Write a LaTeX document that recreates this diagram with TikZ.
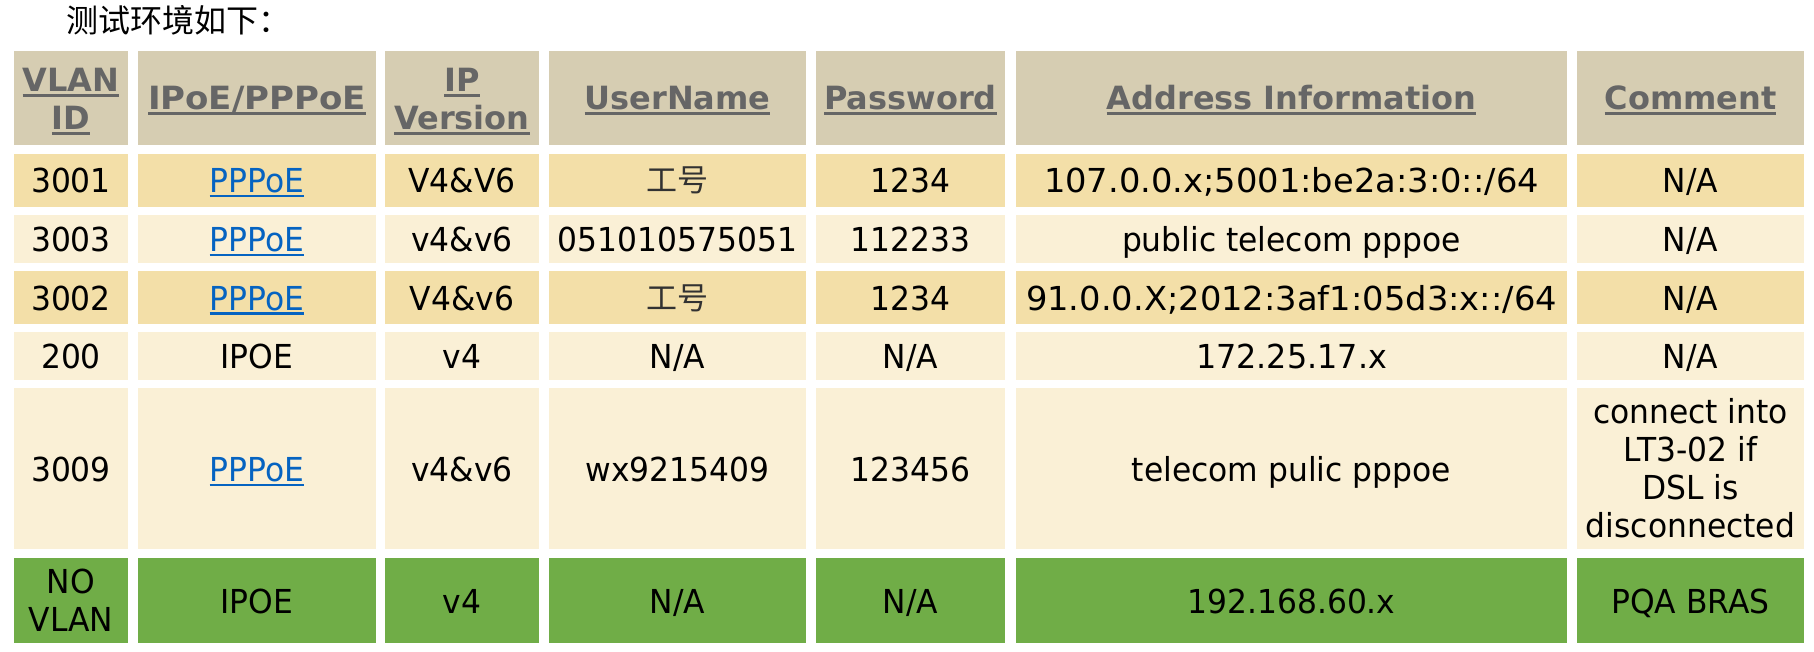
\documentclass[tikz,border=0pt]{standalone}
\usepackage{fontspec}
\usepackage{graphicx}
\setmainfont{DejaVu Sans}[FakeStretch=0.95]
\newfontfamily\hdfont{DejaVu Sans}
\newfontfamily\cjk{Noto Sans CJK SC}
\definecolor{hdbg}{RGB}{214,205,178}
\definecolor{rowd}{RGB}{243,223,168}
\definecolor{rowl}{RGB}{250,240,214}
\definecolor{rowg}{RGB}{112,173,71}
\definecolor{hdtext}{RGB}{102,102,102}
\definecolor{linkblue}{RGB}{5,99,193}
\definecolor{cjkgray}{RGB}{50,50,50}
\newsavebox\ulbox
\newcommand\ulx[4]{\sbox\ulbox{#4}\rlap{\textcolor{#1}{\rule[-#2]{\wd\ulbox}{#3}}}\usebox\ulbox}
\newcommand\hul[1]{\ulx{hdtext}{5pt}{3pt}{#1}}
\newcommand\lnk[1]{\textcolor{linkblue}{\ulx{linkblue}{4.5pt}{2.2pt}{#1}}}
\newcommand\fitw[2]{\resizebox{#1}{\height}{#2}}
\tikzset{
  hd/.style={anchor=base, inner sep=0pt, font=\hdfont\bfseries\fontsize{32}{38}\selectfont, text=hdtext, align=center},
  bd/.style={anchor=base, inner sep=0pt, font=\fontsize{33}{38}\selectfont, align=center},
  cj/.style={anchor=base, inner sep=0pt, font=\cjk\fontsize{31}{36}\selectfont, text=cjkgray},
}
\begin{document}
\begin{tikzpicture}[x=1pt,y=-1pt]
\useasboundingbox (0,0) rectangle (1814,652);
% cells
\foreach \ya/\yb/\c in {51/145/hdbg,154/207/rowd,215/263/rowl,271/324/rowd,332/380/rowl,388/549/rowl,558/643/rowg}
  \foreach \xa/\xb in {14/128,138/376,385/539,549/806,816/1005,1016/1567,1577/1804}
    \fill[\c] (\xa,\ya) rectangle (\xb,\yb);
% title
\node[anchor=base west, inner sep=0pt, font=\cjk\fontsize{32}{38}\selectfont] (title) at (66,33) {测试环境如下：};
% header
\node[hd] (h1) at (71,130) {\hul{VLAN}\\\hul{ID}};
\node[hd] (h2) at (257,110) {\hul{\fitw{218pt}{IPoE/PPPoE}}};
\node[hd] (h3) at (462,130) {\hul{IP}\\\hul{Version}};
\node[hd] (h4) at (677.5,110) {\hul{UserName}};
\node[hd] (h5) at (910.5,110) {\hul{Password}};
\node[hd] (h6) at (1291.5,110) {\hul{Address Information}};
\node[hd] (h7) at (1690.5,110) {\hul{Comment}};
% row 1
\node[bd] (a1) at (71,192.5) {3001};
\node[bd] (b1) at (257,192.5) {\lnk{PPPoE}};
\node[bd] (c1) at (462,192.5) {V4\&V6};
\node[cj] (d1) at (677.5,191.5) {工号};
\node[bd] (e1) at (910.5,192.5) {1234};
\node[bd] (f1) at (1291.5,192.5) {\fitw{495pt}{107.0.0.x;5001:be2a:3:0::/64}};
\node[bd] (g1) at (1690.5,192.5) {N/A};
% row 2
\node[bd] (a2) at (71,252) {3003};
\node[bd] (b2) at (257,252) {\lnk{PPPoE}};
\node[bd] (c2) at (462,252) {v4\&v6};
\node[bd] (d2) at (677.5,252) {051010575051};
\node[bd] (e2) at (910.5,252) {112233};
\node[bd] (f2) at (1291.5,252) {public telecom pppoe};
\node[bd] (g2) at (1690.5,252) {N/A};
% row 3
\node[bd] (a3) at (71,310) {3002};
\node[bd] (b3) at (257,310) {\lnk{PPPoE}};
\node[bd] (c3) at (462,310) {V4\&v6};
\node[cj] (d3) at (677.5,309) {工号};
\node[bd] (e3) at (910.5,310) {1234};
\node[bd] (f3) at (1291.5,310) {\fitw{531pt}{91.0.0.X;2012:3af1:05d3:x::/64}};
\node[bd] (g3) at (1690.5,310) {N/A};
% row 4
\node[bd] (a4) at (71,368.5) {200};
\node[bd] (b4) at (257,368.5) {IPOE};
\node[bd] (c4) at (462,368.5) {v4};
\node[bd] (d4) at (677.5,368.5) {N/A};
\node[bd] (e4) at (910.5,368.5) {N/A};
\node[bd] (f4) at (1291.5,368.5) {\fitw{191pt}{172.25.17.x}};
\node[bd] (g4) at (1690.5,368.5) {N/A};
% row 5
\node[bd] (a5) at (71,481.5) {3009};
\node[bd] (b5) at (257,481.5) {\lnk{PPPoE}};
\node[bd] (c5) at (462,481.5) {v4\&v6};
\node[bd] (d5) at (677.5,481.5) {wx9215409};
\node[bd] (e5) at (910.5,481.5) {123456};
\node[bd] (f5) at (1291.5,481.5) {telecom pulic pppoe};
\node[bd] (g5) at (1690.5,537) {connect into\\LT3-02 if\\DSL is\\disconnected};
% row 6
\node[bd] (a6) at (71,631) {NO\\VLAN};
\node[bd] (b6) at (257,613) {IPOE};
\node[bd] (c6) at (462,613) {v4};
\node[bd] (d6) at (677.5,613) {N/A};
\node[bd] (e6) at (910.5,613) {N/A};
\node[bd] (f6) at (1291.5,613) {192.168.60.x};
\node[bd] (g6) at (1690.5,613) {PQA BRAS};
\end{tikzpicture}
\end{document}
